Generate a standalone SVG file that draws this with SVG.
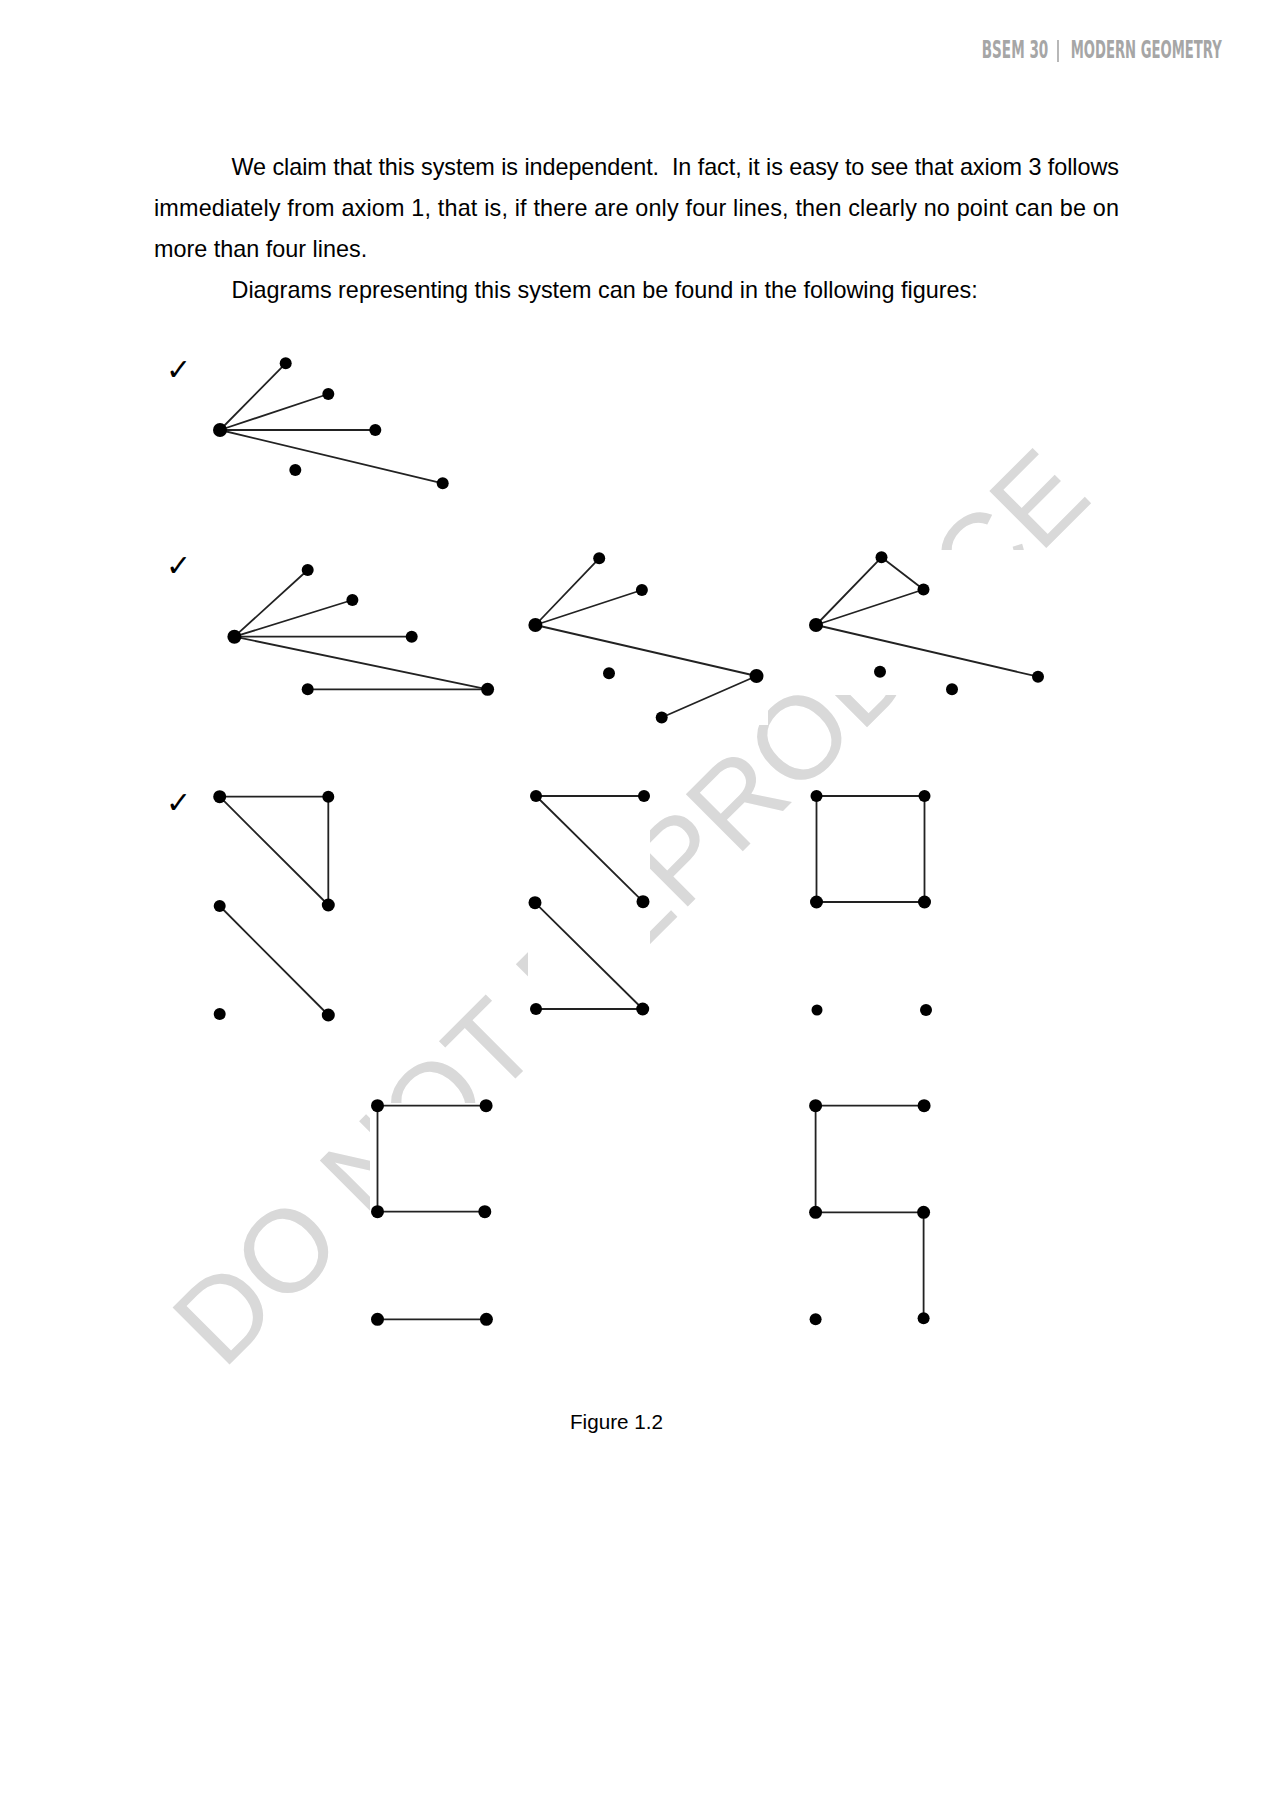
<svg xmlns="http://www.w3.org/2000/svg" width="1272" height="1800" viewBox="0 0 1272 1800">
<style>
.hdr{font-family:"DejaVu Sans Condensed","DejaVu Sans",sans-serif;font-stretch:condensed;font-weight:bold;font-size:25px;fill:#a6a6a6}
.body{font-family:"Liberation Sans",Arial,sans-serif;font-size:23.4px;fill:#000}
.cap{font-family:"Liberation Sans",Arial,sans-serif;font-size:21px;fill:#000}
.chk{font-family:"DejaVu Sans",sans-serif;font-size:30px;font-weight:bold;fill:#000}
.wm{font-family:"Liberation Sans",Arial,sans-serif;font-size:117px;fill:#d9d9d9}
.mask{fill:#fff}
.edge{stroke:#222;stroke-width:1.8;fill:none;stroke-linecap:round}
.dot{fill:#000}
</style>
<rect width="1272" height="1800" fill="#fff"/>
<g id="header">
<text class="hdr" transform="translate(981.7,58.3) scale(0.6,1)" x="0" y="0" textLength="111" lengthAdjust="spacingAndGlyphs">BSEM 30</text>
<line x1="1058" y1="40" x2="1058" y2="62" stroke="#a6a6a6" stroke-width="1.6"/>
<text class="hdr" transform="translate(1070.7,58.3) scale(0.6,1)" x="0" y="0" textLength="251.7" lengthAdjust="spacingAndGlyphs">MODERN GEOMETRY</text>
</g>
<g id="paragraph">
<text class="body" x="231.5" y="174.5" textLength="887.5" lengthAdjust="spacing" xml:space="preserve">We claim that this system is independent.  In fact, it is easy to see that axiom 3 follows</text>
<text class="body" x="154" y="215.5" textLength="965" lengthAdjust="spacing">immediately from axiom 1, that is, if there are only four lines, then clearly no point can be on</text>
<text class="body" x="154" y="256.5">more than four lines.</text>
<text class="body" x="231.5" y="297.5">Diagrams representing this system can be found in the following figures:</text>
</g>
<g id="watermark">
<text class="wm" transform="translate(222.8,1371.3) rotate(-45)" x="0" y="0">DO NOT REPRODUCE</text>
</g>
<g id="image-backgrounds">
<rect class="mask" x="525" y="550" width="243" height="175"/>
<rect class="mask" x="806" y="550" width="294" height="145"/>
<rect class="mask" x="528" y="785" width="122" height="240"/>
<rect class="mask" x="370" y="1103" width="125" height="227"/>
</g>
<g id="checkmarks">
<text class="chk" x="166" y="380">✓</text>
<text class="chk" x="166" y="576">✓</text>
<text class="chk" x="166" y="813">✓</text>
</g>
<g id="connectors">
<line class="edge" x1="220" y1="430" x2="285.7" y2="363.3"/>
<line class="edge" x1="220" y1="430" x2="328.3" y2="394"/>
<line class="edge" x1="220" y1="430" x2="375.3" y2="430"/>
<line class="edge" x1="220" y1="430" x2="442.7" y2="483.3"/>
<line class="edge" x1="234.4" y1="636.7" x2="307.7" y2="570"/>
<line class="edge" x1="234.4" y1="636.7" x2="352.4" y2="600"/>
<line class="edge" x1="234.4" y1="636.7" x2="411.7" y2="636.7"/>
<line class="edge" x1="234.4" y1="636.7" x2="487.6" y2="689.3"/>
<line class="edge" x1="307.7" y1="689.3" x2="487.6" y2="689.3"/>
<line class="edge" x1="535.4" y1="625" x2="599.2" y2="558.3"/>
<line class="edge" x1="535.4" y1="625" x2="641.9" y2="590"/>
<line class="edge" x1="535.4" y1="625" x2="756.5" y2="676"/>
<line class="edge" x1="756.5" y1="676" x2="661.7" y2="717.5"/>
<line class="edge" x1="816" y1="625" x2="881.5" y2="557.3"/>
<line class="edge" x1="881.5" y1="557.3" x2="923.5" y2="589.5"/>
<line class="edge" x1="816" y1="625" x2="923.5" y2="589.5"/>
<line class="edge" x1="816" y1="625" x2="1038" y2="676.7"/>
<line class="edge" x1="219.7" y1="796.7" x2="328.3" y2="796.7"/>
<line class="edge" x1="219.7" y1="796.7" x2="328.3" y2="905"/>
<line class="edge" x1="328.3" y1="796.7" x2="328.3" y2="905"/>
<line class="edge" x1="219.7" y1="906" x2="328.3" y2="1015"/>
<line class="edge" x1="536" y1="796" x2="644" y2="796"/>
<line class="edge" x1="536" y1="796" x2="643" y2="901.7"/>
<line class="edge" x1="535" y1="902.7" x2="642.7" y2="1009"/>
<line class="edge" x1="536" y1="1009" x2="642.7" y2="1009"/>
<line class="edge" x1="816.5" y1="796" x2="924.5" y2="796"/>
<line class="edge" x1="816.5" y1="796" x2="816.5" y2="902"/>
<line class="edge" x1="924.5" y1="796" x2="924.5" y2="902"/>
<line class="edge" x1="816.5" y1="902" x2="924.5" y2="902"/>
<line class="edge" x1="377.5" y1="1105.7" x2="486.1" y2="1105.7"/>
<line class="edge" x1="377.5" y1="1105.7" x2="377.5" y2="1211.7"/>
<line class="edge" x1="377.5" y1="1211.7" x2="484.8" y2="1211.7"/>
<line class="edge" x1="377.5" y1="1319.3" x2="486.4" y2="1319.3"/>
<line class="edge" x1="815.6" y1="1105.7" x2="924.1" y2="1105.7"/>
<line class="edge" x1="815.6" y1="1105.7" x2="815.6" y2="1212.3"/>
<line class="edge" x1="815.6" y1="1212.3" x2="923.6" y2="1212.3"/>
<line class="edge" x1="923.6" y1="1212.3" x2="923.6" y2="1318.3"/>
</g>
<g id="fig1-nodes">
<circle id="f1-hub" class="dot" cx="220" cy="430" r="7"/>
<circle id="f1-a" class="dot" cx="285.7" cy="363.3" r="6"/>
<circle id="f1-b" class="dot" cx="328.3" cy="394" r="6"/>
<circle id="f1-c" class="dot" cx="375.3" cy="430" r="6"/>
<circle id="f1-d" class="dot" cx="295.3" cy="470" r="6"/>
<circle id="f1-e" class="dot" cx="442.7" cy="483.3" r="6"/>
</g>
<g id="fig2a-nodes">
<circle class="dot" cx="234.4" cy="636.7" r="7"/>
<circle class="dot" cx="307.7" cy="570" r="6"/>
<circle class="dot" cx="352.4" cy="600" r="6"/>
<circle class="dot" cx="411.7" cy="636.7" r="6"/>
<circle class="dot" cx="487.6" cy="689.3" r="6.5"/>
<circle class="dot" cx="307.7" cy="689.3" r="6"/>
</g>
<g id="fig2b-nodes">
<circle class="dot" cx="535.4" cy="625" r="7"/>
<circle class="dot" cx="599.2" cy="558.3" r="6"/>
<circle class="dot" cx="641.9" cy="590" r="6"/>
<circle class="dot" cx="756.5" cy="676" r="7"/>
<circle class="dot" cx="609" cy="673.3" r="6"/>
<circle class="dot" cx="661.7" cy="717.5" r="6"/>
</g>
<g id="fig2c-nodes">
<circle class="dot" cx="816" cy="625" r="7"/>
<circle class="dot" cx="881.5" cy="557.3" r="6"/>
<circle class="dot" cx="923.5" cy="589.5" r="6"/>
<circle class="dot" cx="1038" cy="676.7" r="6"/>
<circle class="dot" cx="880" cy="671.7" r="6"/>
<circle class="dot" cx="952" cy="689.3" r="6"/>
</g>
<g id="fig3a-nodes">
<circle class="dot" cx="219.7" cy="796.7" r="6.5"/>
<circle class="dot" cx="328.3" cy="796.7" r="6"/>
<circle class="dot" cx="328.3" cy="905" r="6.5"/>
<circle class="dot" cx="219.7" cy="906" r="6"/>
<circle class="dot" cx="219.7" cy="1014" r="6"/>
<circle class="dot" cx="328.3" cy="1015" r="6.5"/>
</g>
<g id="fig3b-nodes">
<circle class="dot" cx="536" cy="796" r="6"/>
<circle class="dot" cx="644" cy="796" r="6"/>
<circle class="dot" cx="643" cy="901.7" r="6.5"/>
<circle class="dot" cx="535" cy="902.7" r="6.5"/>
<circle class="dot" cx="536" cy="1009" r="6"/>
<circle class="dot" cx="642.7" cy="1009" r="6.5"/>
</g>
<g id="fig3c-nodes">
<circle class="dot" cx="816.5" cy="796" r="6"/>
<circle class="dot" cx="924.5" cy="796" r="6"/>
<circle class="dot" cx="816.5" cy="902" r="6.5"/>
<circle class="dot" cx="924.5" cy="902" r="6.5"/>
<circle class="dot" cx="817" cy="1010" r="5.5"/>
<circle class="dot" cx="926" cy="1010" r="6"/>
</g>
<g id="fig4a-nodes">
<circle class="dot" cx="377.5" cy="1105.7" r="6.5"/>
<circle class="dot" cx="486.1" cy="1105.7" r="6.5"/>
<circle class="dot" cx="377.5" cy="1211.7" r="6.5"/>
<circle class="dot" cx="484.8" cy="1211.7" r="6.5"/>
<circle class="dot" cx="377.5" cy="1319.3" r="6.5"/>
<circle class="dot" cx="486.4" cy="1319.3" r="6.5"/>
</g>
<g id="fig4b-nodes">
<circle class="dot" cx="815.6" cy="1105.7" r="6.5"/>
<circle class="dot" cx="924.1" cy="1105.7" r="6.5"/>
<circle class="dot" cx="815.6" cy="1212.3" r="6.5"/>
<circle class="dot" cx="923.6" cy="1212.3" r="6.5"/>
<circle class="dot" cx="815.6" cy="1319.3" r="6"/>
<circle class="dot" cx="923.6" cy="1318.3" r="6"/>
</g>
<g id="caption">
<text class="cap" x="570" y="1429.3" textLength="93" lengthAdjust="spacingAndGlyphs">Figure 1.2</text>
</g>
</svg>
